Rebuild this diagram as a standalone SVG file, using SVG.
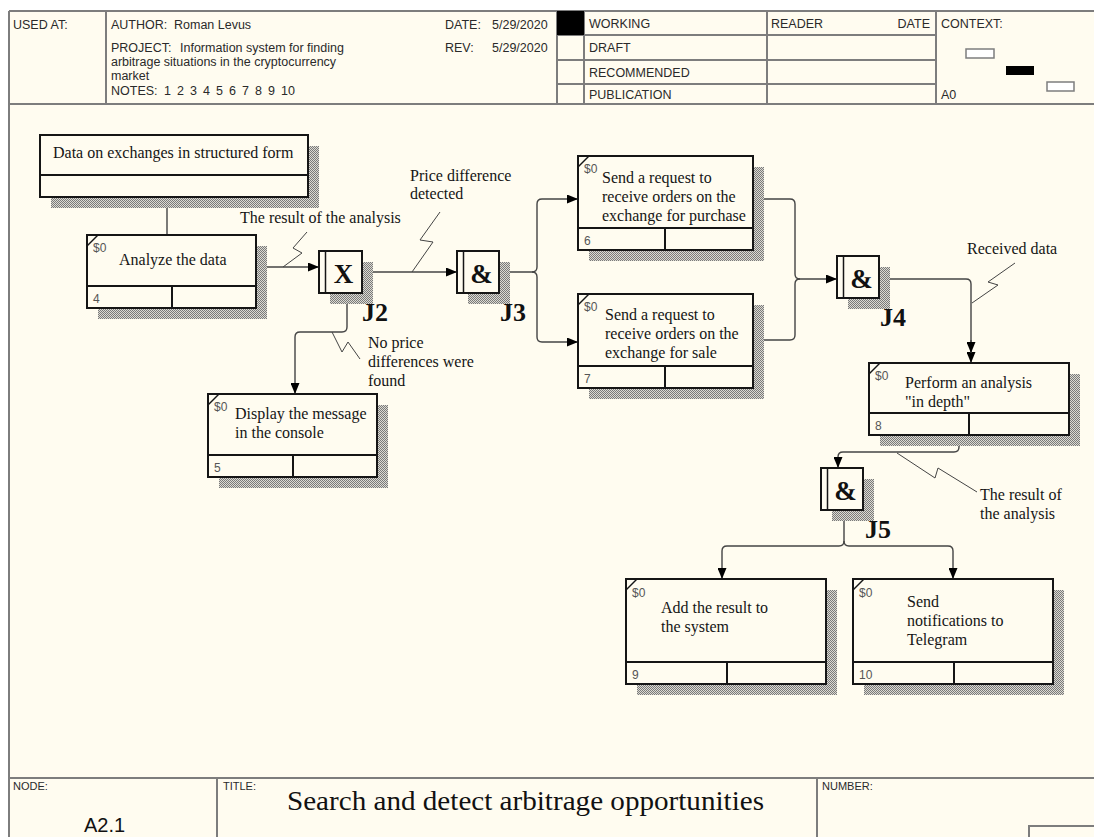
<svg xmlns="http://www.w3.org/2000/svg" width="1094" height="837" viewBox="0 0 1094 837">
<defs>
<pattern id="hatch" width="2" height="2" patternUnits="userSpaceOnUse"><rect width="2" height="2" fill="#dcdad2"/><rect width="1" height="1" fill="#7a7a7a"/><rect x="1" y="1" width="1" height="1" fill="#7a7a7a"/></pattern>
<marker id="arr" markerWidth="11" markerHeight="9" refX="11" refY="4.5" orient="auto" markerUnits="userSpaceOnUse"><path d="M0,0 L11,4.5 L0,9 z" fill="#000"/></marker>
</defs>
<style>
.frame{fill:none;stroke:#7d7d7d;stroke-width:2}
.hdr{font-family:"Liberation Sans",Arial,sans-serif;font-size:12.5px;fill:#2a2a2a}
.small{font-family:"Liberation Sans",Arial,sans-serif;font-size:11px;fill:#2a2a2a}
.box{fill:#fffcf0;stroke:#151515;stroke-width:2}
.ln{stroke:#151515;stroke-width:2}
.cn{stroke:#151515;stroke-width:1.5}
.shadow{fill:url(#hatch)}
.lbl{font-family:"Liberation Serif","Times New Roman",serif;font-size:16px;fill:#151515}
.num{font-family:"Liberation Sans",Arial,sans-serif;font-size:12px;fill:#555}
.conn{fill:none;stroke:#444;stroke-width:1.4}
.sq{fill:none;stroke:#444;stroke-width:1}
.jl{font-family:"Liberation Serif","Times New Roman",serif;font-weight:bold;font-size:26px;fill:#111}
.js{font-family:"Liberation Serif","Times New Roman",serif;font-weight:bold;font-size:27px;fill:#111;text-anchor:middle}
</style>
<rect x="0" y="0" width="1094" height="837" fill="#ffffff"/>
<rect x="9" y="11" width="1085" height="826" fill="#fffcf0"/>

<g id="frame">
<line class="frame" x1="9" y1="11" x2="1094" y2="11"/>
<line class="frame" x1="9" y1="11" x2="9" y2="837"/>
<line class="frame" x1="9" y1="104" x2="1094" y2="104"/>
<line class="frame" x1="106" y1="11" x2="106" y2="104"/>
<line class="frame" x1="557" y1="11" x2="557" y2="104"/>
<line class="frame" x1="584" y1="11" x2="584" y2="104"/>
<line class="frame" x1="767" y1="11" x2="767" y2="104"/>
<line class="frame" x1="936" y1="11" x2="936" y2="104"/>
<line class="frame" x1="557" y1="35" x2="936" y2="35"/>
<line class="frame" x1="557" y1="60" x2="936" y2="60"/>
<line class="frame" x1="557" y1="84" x2="936" y2="84"/>
<rect x="557" y="11" width="27" height="24" fill="#000"/>
<rect x="966" y="49" width="28" height="9" fill="#fff" stroke="#7d7d7d" stroke-width="1.5"/>
<rect x="1006" y="66" width="28" height="9" fill="#000"/>
<rect x="1047" y="82" width="27" height="9" fill="#fff" stroke="#7d7d7d" stroke-width="1.5"/>
<text class="hdr" x="13" y="29">USED AT:</text>
<text class="hdr" x="111" y="29">AUTHOR:</text>
<text class="hdr" x="174" y="29">Roman Levus</text>
<text class="hdr" x="111" y="52">PROJECT:</text>
<text class="hdr" x="180" y="52">Information system for finding</text>
<text class="hdr" x="111" y="66">arbitrage situations in the cryptocurrency</text>
<text class="hdr" x="111" y="80">market</text>
<text class="hdr" x="111" y="95">NOTES:<tspan x="164">1</tspan><tspan x="177">2</tspan><tspan x="190">3</tspan><tspan x="203">4</tspan><tspan x="216">5</tspan><tspan x="229">6</tspan><tspan x="242">7</tspan><tspan x="255">8</tspan><tspan x="268">9</tspan><tspan x="281">10</tspan></text>
<text class="hdr" x="445" y="29">DATE:</text>
<text class="hdr" x="492" y="29">5/29/2020</text>
<text class="hdr" x="445" y="52">REV:</text>
<text class="hdr" x="492" y="52">5/29/2020</text>
<text class="hdr" x="589" y="28">WORKING</text>
<text class="hdr" x="589" y="52">DRAFT</text>
<text class="hdr" x="589" y="77">RECOMMENDED</text>
<text class="hdr" x="589" y="99">PUBLICATION</text>
<text class="hdr" x="771" y="28">READER</text>
<text class="hdr" x="930" y="28" text-anchor="end">DATE</text>
<text class="hdr" x="941" y="28">CONTEXT:</text>
<text class="hdr" x="941" y="99">A0</text>
<line class="frame" x1="9" y1="778" x2="1094" y2="778"/>
<line class="frame" x1="217" y1="778" x2="217" y2="837"/>
<line class="frame" x1="817" y1="778" x2="817" y2="837"/>
<rect class="frame" x="1029" y="826" width="80" height="30"/>
<text class="small" x="13" y="790">NODE:</text>
<text class="small" x="223" y="790">TITLE:</text>
<text class="small" x="822" y="790">NUMBER:</text>
<text x="84" y="832" font-family="Liberation Sans, Arial, sans-serif" font-size="20" fill="#111">A2.1</text>
<text x="287" y="810" font-family="Liberation Serif, Times New Roman, serif" font-size="28" fill="#111" textLength="477" lengthAdjust="spacingAndGlyphs">Search and detect arbitrage opportunities</text>
</g>

<g id="connectors">
<path class="conn" d="M167,197 V235"/>
<path class="conn" d="M256,267 H319" marker-end="url(#arr)"/>
<path class="conn" d="M362,272 H457" marker-end="url(#arr)"/>
<path class="conn" d="M499,272 H532 Q537,272 537,267 V204 Q537,199 542,199 H578" marker-end="url(#arr)"/>
<path class="conn" d="M532,272 Q537,272 537,277 V337 Q537,342 542,342 H578" marker-end="url(#arr)"/>
<path class="conn" d="M753,199 H790 Q795,199 795,204 V274 Q795,279 800,279 H837" marker-end="url(#arr)"/>
<path class="conn" d="M753,340 H790 Q795,340 795,335 V284 Q795,279 800,279"/>
<path class="conn" d="M879,279 H966 Q971,279 971,284 V363" marker-end="url(#arr)"/>
<path class="conn" d="M971,340 V353" marker-end="url(#arr)"/>
<path class="conn" d="M347,293 V327 Q347,332 342,332 H300 Q295,332 295,337 V394" marker-end="url(#arr)"/>
<path class="conn" d="M959,435 V447 Q959,452 954,452 H843 Q838,452 838,457 V468" marker-end="url(#arr)"/>
<path class="conn" d="M844,510 V541 Q844,546 839,546 H727 Q722,546 722,551 V579" marker-end="url(#arr)"/>
<path class="conn" d="M844,541 Q844,546 849,546 H948 Q953,546 953,551 V579" marker-end="url(#arr)"/>
<path class="sq" d="M283,267 L302,253 L293,248 L307,232"/>
<path class="sq" d="M412,272 L433,242 L420,240 L440,212"/>
<path class="sq" d="M332,332 L342,352 L348,342 L360,359"/>
<path class="sq" d="M972,303 L998,285 L988,282 L1015,263"/>
<path class="sq" d="M897,453 L935,478 L938,468 L977,492"/>
</g>

<g id="labels">
<text class="lbl" x="240" y="223">The result of the analysis</text>
<text class="lbl" x="410" y="181">Price difference</text>
<text class="lbl" x="410" y="199">detected</text>
<text class="lbl" x="368" y="348">No price</text>
<text class="lbl" x="368" y="367">differences were</text>
<text class="lbl" x="368" y="386">found</text>
<text class="lbl" x="967" y="254">Received data</text>
<text class="lbl" x="980" y="500">The result of</text>
<text class="lbl" x="980" y="519">the analysis</text>
</g>

<g id="data">
<rect class="shadow" x="51" y="146" width="268" height="62"/>
<rect class="box" x="40" y="135" width="268" height="62"/>
<line class="ln" x1="40" y1="175" x2="308" y2="175"/>
<text class="lbl" x="53" y="158">Data on exchanges in structured form</text>
</g>

<g id="n4">
<rect class="shadow" x="98" y="246" width="169" height="73"/>
<rect class="box" x="87" y="235" width="169" height="73"/>
<line class="ln" x1="87" y1="286" x2="256" y2="286"/>
<line class="ln" x1="172" y1="286" x2="172" y2="308"/>
<line class="cn" x1="87" y1="246" x2="98" y2="235"/>
<text class="num" x="93" y="252">$0</text>
<text class="num" x="93" y="303">4</text>
<text class="lbl" x="119" y="265">Analyze the data</text>
</g>

<g id="j2">
<rect class="shadow" x="330" y="262" width="43" height="42"/>
<rect class="box" x="319" y="251" width="43" height="42"/>
<line class="cn" x1="325.5" y1="251" x2="325.5" y2="293"/>
<text class="js" x="343.5" y="283">X</text>
<text class="jl" x="362" y="321">J2</text>
</g>

<g id="j3">
<rect class="shadow" x="468" y="262" width="42" height="42"/>
<rect class="box" x="457" y="251" width="42" height="42"/>
<line class="cn" x1="463.5" y1="251" x2="463.5" y2="293"/>
<text class="js" x="481.5" y="283">&amp;</text>
<text class="jl" x="500" y="321">J3</text>
</g>

<g id="n6">
<rect class="shadow" x="589" y="167" width="175" height="94"/>
<rect class="box" x="578" y="156" width="175" height="94"/>
<line class="ln" x1="578" y1="228" x2="753" y2="228"/>
<line class="ln" x1="665" y1="228" x2="665" y2="250"/>
<line class="cn" x1="578" y1="167" x2="589" y2="156"/>
<text class="num" x="584" y="173">$0</text>
<text class="num" x="584" y="245">6</text>
<text class="lbl" x="602" y="183">Send a request to</text>
<text class="lbl" x="602" y="202">receive orders on the</text>
<text class="lbl" x="602" y="221">exchange for purchase</text>
</g>

<g id="n7">
<rect class="shadow" x="589" y="305" width="175" height="94"/>
<rect class="box" x="578" y="294" width="175" height="94"/>
<line class="ln" x1="578" y1="366" x2="753" y2="366"/>
<line class="ln" x1="665" y1="366" x2="665" y2="388"/>
<line class="cn" x1="578" y1="305" x2="589" y2="294"/>
<text class="num" x="584" y="311">$0</text>
<text class="num" x="584" y="383">7</text>
<text class="lbl" x="605" y="320">Send a request to</text>
<text class="lbl" x="605" y="339">receive orders on the</text>
<text class="lbl" x="605" y="358">exchange for sale</text>
</g>

<g id="j4">
<rect class="shadow" x="848" y="267" width="42" height="42"/>
<rect class="box" x="837" y="256" width="42" height="42"/>
<line class="cn" x1="843.5" y1="256" x2="843.5" y2="298"/>
<text class="js" x="861.5" y="288">&amp;</text>
<text class="jl" x="880" y="326">J4</text>
</g>

<g id="n8">
<rect class="shadow" x="880" y="374" width="200" height="72"/>
<rect class="box" x="869" y="363" width="200" height="72"/>
<line class="ln" x1="869" y1="413" x2="1069" y2="413"/>
<line class="ln" x1="969" y1="413" x2="969" y2="435"/>
<line class="cn" x1="869" y1="374" x2="880" y2="363"/>
<text class="num" x="875" y="380">$0</text>
<text class="num" x="875" y="430">8</text>
<text class="lbl" x="905" y="388">Perform an analysis</text>
<text class="lbl" x="905" y="407">"in depth"</text>
</g>

<g id="n5">
<rect class="shadow" x="219" y="405" width="169" height="83"/>
<rect class="box" x="208" y="394" width="169" height="83"/>
<line class="ln" x1="208" y1="455" x2="377" y2="455"/>
<line class="ln" x1="293" y1="455" x2="293" y2="477"/>
<line class="cn" x1="208" y1="405" x2="219" y2="394"/>
<text class="num" x="214" y="411">$0</text>
<text class="num" x="214" y="472">5</text>
<text class="lbl" x="235" y="419">Display the message</text>
<text class="lbl" x="235" y="438">in the console</text>
</g>

<g id="j5">
<rect class="shadow" x="832" y="479" width="42" height="42"/>
<rect class="box" x="821" y="468" width="42" height="42"/>
<line class="cn" x1="827.5" y1="468" x2="827.5" y2="510"/>
<text class="js" x="845.5" y="500">&amp;</text>
<text class="jl" x="865" y="538">J5</text>
</g>

<g id="n9">
<rect class="shadow" x="637" y="590" width="200" height="105"/>
<rect class="box" x="626" y="579" width="200" height="105"/>
<line class="ln" x1="626" y1="662" x2="826" y2="662"/>
<line class="ln" x1="727" y1="662" x2="727" y2="684"/>
<line class="cn" x1="626" y1="590" x2="637" y2="579"/>
<text class="num" x="632" y="597">$0</text>
<text class="num" x="632" y="679">9</text>
<text class="lbl" x="661" y="613">Add the result to</text>
<text class="lbl" x="661" y="632">the system</text>
</g>

<g id="n10">
<rect class="shadow" x="864" y="590" width="200" height="105"/>
<rect class="box" x="853" y="579" width="200" height="105"/>
<line class="ln" x1="853" y1="662" x2="1053" y2="662"/>
<line class="ln" x1="954" y1="662" x2="954" y2="684"/>
<line class="cn" x1="853" y1="590" x2="864" y2="579"/>
<text class="num" x="859" y="597">$0</text>
<text class="num" x="859" y="679">10</text>
<text class="lbl" x="907" y="607">Send</text>
<text class="lbl" x="907" y="626">notifications to</text>
<text class="lbl" x="907" y="645">Telegram</text>
</g>
</svg>
